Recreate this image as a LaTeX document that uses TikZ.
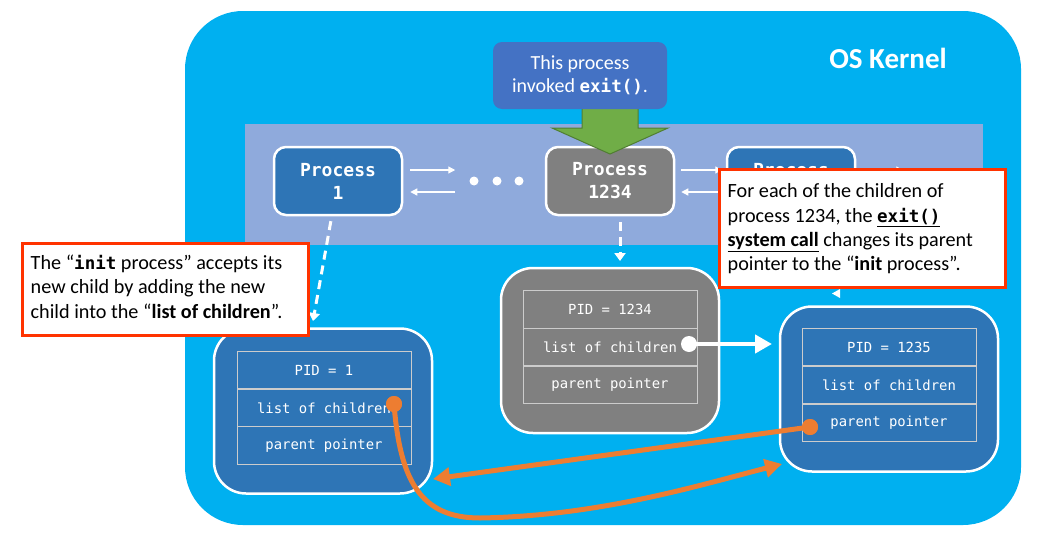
\documentclass[tikz,border=0pt]{standalone}
\usepackage{fontspec}
\setmainfont{Carlito}
\newfontfamily\monof{DejaVu Sans Mono}
\usetikzlibrary{arrows.meta,calc}
\definecolor{kern}{HTML}{00B0F0}
\definecolor{band}{HTML}{8FAADC}
\definecolor{pblue}{HTML}{2E75B6}
\definecolor{xblue}{HTML}{4472C4}
\definecolor{pgray}{HTML}{808080}
\definecolor{oran}{HTML}{ED7D31}
\definecolor{cred}{HTML}{FF3300}
\definecolor{grn}{HTML}{70AD47}
\definecolor{grnd}{HTML}{507E32}
\newcommand\cmonob[1]{{\monof\bfseries\fontsize{17.5}{24.4}\selectfont #1}}
\begin{document}
\begin{tikzpicture}[x=1pt,y=-1pt,
  kernelbox/.style={fill=kern, rounded corners=58pt},
  procbox/.style={draw=white, line width=2.5pt, rounded corners=12pt, minimum width=128pt, minimum height=68pt, text=white, align=center, font=\monof\bfseries\fontsize{18}{23}\selectfont, inner sep=0pt},
  outerbox/.style={draw=white, line width=2.5pt, rounded corners=32pt, minimum width=218pt, minimum height=165pt},
  rowbox/.style={draw=white!80!black, line width=1pt, minimum width=174pt, minimum height=37.7pt, text=white, font=\monof\fontsize{13.9}{16}\selectfont, inner sep=0pt},
  exitbox/.style={fill=xblue, rounded corners=9pt, minimum width=174pt, minimum height=67pt, text=white, align=center, font=\fontsize{20}{23}\selectfont, inner sep=0pt},
  calloutbox/.style={draw=cred, line width=3pt, fill=white},
  callouttext/.style={align=left, inner sep=0pt, text=black, font=\fontsize{20.2}{24.4}\selectfont, anchor=north west},
  tarr/.style={draw=white, line width=1.3pt, -{Triangle[length=7pt,width=7pt]}},
  dasharr/.style={draw=white, line width=3pt, dash pattern=on 9pt off 6pt, -{Triangle[length=8pt,width=11pt]}},
  warr/.style={draw=white, line width=4.5pt, -{Triangle[length=17pt,width=18pt]}},
  oarr/.style={draw=oran, line width=5pt, -{Triangle[length=17pt,width=18pt]}},
  dotn/.style={circle, fill=white, minimum size=9pt, inner sep=0pt},
  odot/.style={circle, fill=oran, minimum size=16pt, inner sep=0pt},
  wdot/.style={circle, fill=white, minimum size=16pt, inner sep=0pt}
]
\useasboundingbox (0,0) rectangle (1043,538);
% kernel and band
\fill[kernelbox] (185,11) rectangle (1021,525);
\fill[band] (245,124) rectangle (983,245);
\node[font=\bfseries\fontsize{29}{31}\selectfont, text=white] (kl) at (888,58) {OS Kernel};

% process boxes
\node[procbox, fill=pblue] (p1) at (338,181) {Process\\1};
\node[procbox, fill=pgray] (p2) at (610,181) {Process\\1234};
\node[procbox, fill=pblue] (p3) at (791,181) {Process\\\phantom{1}};

% thin arrows and dots
\draw[tarr] ([yshift=11pt]p1.east) ++(7,0) -- ++(45,0);
\draw[tarr] ([yshift=-11pt]p1.east) ++(52,0) -- ++(-45,0);
\node[dotn] (d1) at (474,181) {};
\node[dotn] (d2) at (497,181) {};
\node[dotn] (d3) at (519,181) {};
\draw[tarr] ([yshift=11pt]p2.east) ++(6,0) -- ++(41,0);
\draw[tarr] ([yshift=-11pt]p2.east) ++(47,0) -- ++(-41,0);
\draw[tarr] ([yshift=11pt]p3.east) ++(7,0) -- ++(40,0);

% green arrow and exit box
\draw[fill=grn, draw=grnd, line width=1pt] (582,100) -- (638,100) -- (638,128) -- (668,128) -- (610,154) -- (552,128) -- (582,128) -- cycle;
\node[exitbox] (ex) at (580,75.5) {This process\\invoked \cmonob{exit()}.};

% dashed arrows
\coordinate (t1) at (313,321);
\draw[dasharr, shorten <=5pt] (p1) -- (t1);
\coordinate (t2) at (620,261);
\draw[dasharr] ([yshift=-6pt]p2.south -| t2) -- (t2);
\fill[white] (832,293.5) -- (840,289) -- (840,298) -- cycle;

% PID = 1
\node[outerbox, fill=pblue] (b1) at (323,411) {};
\node[rowbox] (b1a) at (324,370) {PID = 1};
\node[rowbox] (b1b) at (324,408) {list of children};
\node[rowbox] (b1c) at (324,445.5) {parent pointer};

% PID = 1234
\node[outerbox, fill=pgray] (b2) at (610,350.5) {};
\node[rowbox] (b2a) at (610,309.5) {PID = 1234};
\node[rowbox] (b2b) at (610,347) {list of children};
\node[rowbox] (b2c) at (610,385) {parent pointer};

% PID = 1235
\node[outerbox, fill=pblue] (b3) at (889,389) {};
\node[rowbox] (b3a) at (889,347) {PID = 1235};
\node[rowbox] (b3b) at (889,385) {list of children};
\node[rowbox] (b3c) at (889,423) {parent pointer};

% white pointer arrow
\node[wdot] (wd) at (689,344) {};
\coordinate (t4) at (772,344);
\draw[warr] (wd.center) -- (t4);

% orange arrows
\node[odot] (od1) at (394,404) {};
\node[odot] (od2) at (810,427) {};
\coordinate (ta) at (433,479);
\coordinate (tb) at (782,464);
\draw[oarr] (od2.center) -- (ta);
\draw[oarr] (od1.center) .. controls (400,480) and (420,518) .. (480,518) .. controls (600,516) and (700,485) .. (tb);
\node[odot] at (od1) {};
\node[odot] at (od2) {};

% callouts
\node[calloutbox, minimum width=286pt, minimum height=92pt] (c1) at (165,289) {};
\node[callouttext] (c1t) at ($(c1.north west)+(10,13)$) {The “\cmonob{init} process” accepts its\\new child by adding the new\\child into the “\textbf{list of children}”.};
\node[calloutbox, minimum width=286pt, minimum height=118pt] (c2) at (862,228) {};
\node[callouttext] (c2t) at ($(c2.north west)+(10,16)$) {For each of the children of\\process 1234, the \underline{\cmonob{exit()}}\\\underline{\textbf{system call}} changes its parent\\pointer to the “\textbf{init} process”.};
\end{tikzpicture}
\end{document}
